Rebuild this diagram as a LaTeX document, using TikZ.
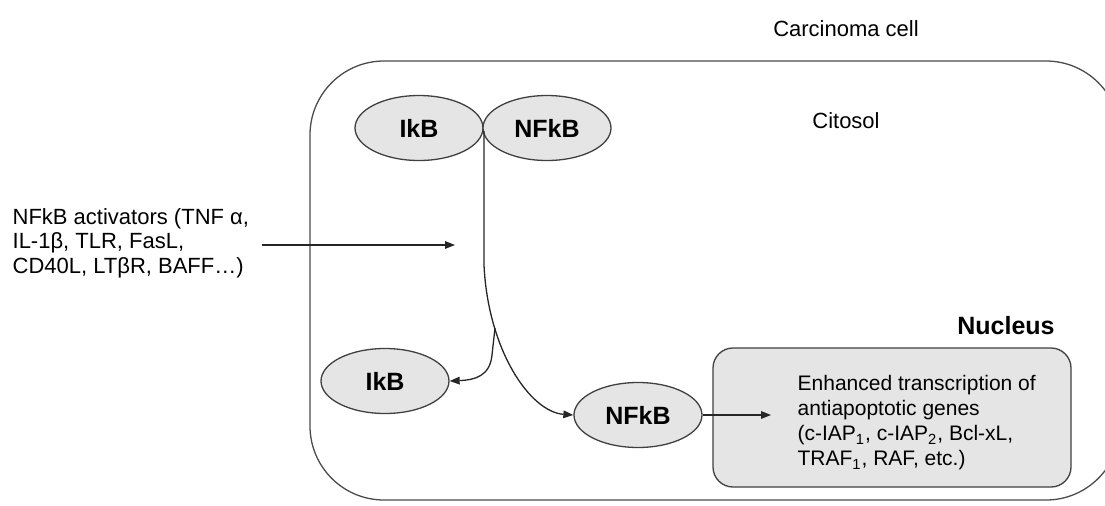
\documentclass[tikz,border=0pt]{standalone}
\usepackage{fontspec}
\setmainfont{Liberation Sans}
\usetikzlibrary{arrows.meta,shapes.geometric}

\begin{document}
\begin{tikzpicture}[x=0.5pt, y=-0.5pt, line width=0.65pt, >={Triangle[length=5pt,width=3.8pt]},
  mol node/.style={ellipse,draw=black!75,fill=black!10,minimum width=64pt,minimum height=32.5pt,inner sep=0pt,font=\fontsize{12.5}{14}\selectfont\bfseries},
  label node/.style={inner sep=0pt,align=left,font=\fontsize{11}{12.25}\selectfont},
  link/.style={draw=black!85,->}]
\useasboundingbox (0,0) rectangle (1105,505);
\clip (0,0) rectangle (1105,505);
% cell and nucleus
\draw[black!70, rounded corners=37pt] (310,61) rectangle (1120,500);
\node [draw=black!75,fill=black!10,rounded corners=10pt,minimum width=179pt,minimum height=69.5pt,inner sep=0pt](nucleus) at (892,417.5) {};
\begin{scope}[every node/.style={label node}]
\node (cell) at (846,29) {Carcinoma cell};
\node (citosol) at (846,121) {Citosol};
\node [anchor=west](act) at (12,243) {NFkB activators (TNF α,\\IL-1β, TLR, FasL,\\CD40L, LTβR, BAFF\ldots)};
\node [anchor=west,font=\fontsize{10.5}{12.5}\selectfont](genes) at (797,423) {Enhanced transcription of\\antiapoptotic genes\\(c-IAP\textsubscript{1}, c-IAP\textsubscript{2}, Bcl-xL,\\TRAF\textsubscript{1}, RAF, etc.)};
\node [font=\fontsize{12.5}{14}\selectfont\bfseries](nuclab) at (1006,326) {Nucleus};
\end{scope}
% complex and free proteins
\node [mol node](ikb1) at (419,128) {IkB};
\node [mol node](nfkb1) at (547,128) {NFkB};
\node [mol node](ikb2) at (385,381) {IkB};
\node [mol node](nfkb2) at (638,415) {NFkB};
\coordinate (touch) at (484,131);
\coordinate (bend) at (484,265);
\coordinate (split) at (495,328);
\coordinate (stim) at (455,245);
\coordinate (gene) at (771,415);
\path
	(act.east |- stim) edge [link, shorten <=6pt] (stim)
	(nfkb2.east) edge [link] (gene)
         ;
\draw [link] (touch) -- (bend) .. controls (488,350) and (530,412) .. (nfkb2.west);
\draw [link] (split) -- (492,355) .. controls (490,376) and (475,380) .. (ikb2.east);
\end{tikzpicture}
\end{document}
